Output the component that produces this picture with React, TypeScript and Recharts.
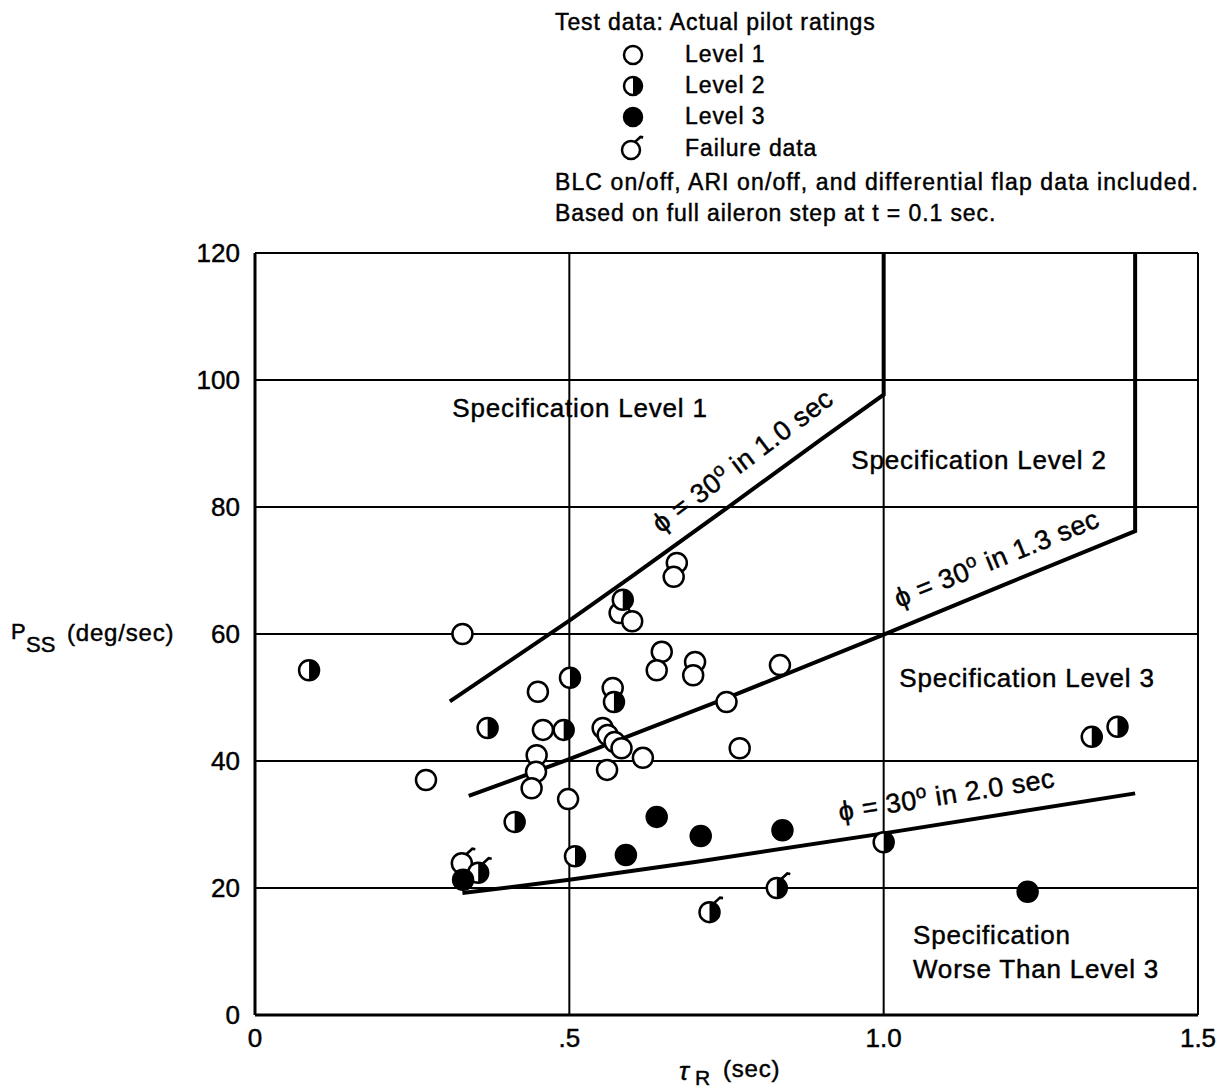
import {
  CartesianGrid,
  ComposedChart,
  Line,
  Scatter,
  XAxis,
  YAxis,
} from 'recharts'

// readings: [tau_R (sec), P_ss (deg/sec)]
const LEVEL1: [number, number][] = [
  [0.33, 60], [0.45, 50.9], [0.458, 44.9], [0.448, 40.9], [0.447, 38.3],
  [0.44, 35.7], [0.272, 37], [0.498, 34], [0.671, 71.2], [0.666, 69],
  [0.58, 63.3], [0.6, 62], [0.647, 57.2], [0.639, 54.3], [0.7, 55.6],
  [0.697, 53.5], [0.835, 55.1], [0.569, 51.5], [0.75, 49.3], [0.553, 45.2],
  [0.561, 44.1], [0.572, 43], [0.583, 42], [0.617, 40.5], [0.771, 42],
  [0.56, 38.6],
]
const LEVEL2: [number, number][] = [
  [0.086, 54.3], [0.501, 53.1], [0.37, 45.2], [0.491, 44.9], [0.413, 30.4],
  [0.509, 25], [0.585, 65.4], [0.571, 49.3], [1.0, 27.2], [1.331, 43.8],
  [1.372, 45.4],
]
const LEVEL3: [number, number][] = [
  [0.331, 21.3], [0.639, 31.2], [0.59, 25.2], [0.709, 28.2], [0.839, 29.1],
  [1.229, 19.4],
]
const FAIL_L1: [number, number][] = [[0.329, 23.9]]
const FAIL_L2: [number, number][] = [[0.355, 22.4], [0.83, 20], [0.723, 16.2]]

// boundary curves: phi = 30 deg reached in 1.0 / 1.3 / 2.0 sec
const BOUND_10: [number, number][] = [
  [0.31, 49.4], [0.4, 55.4], [0.5, 62.1], [0.6, 69.1], [0.75, 79.8],
  [0.8, 83.4], [0.9, 90.6], [1.0, 97.7], [1.0, 120],
]
const BOUND_13: [number, number][] = [
  [0.34, 34.5], [0.5, 40.3], [0.75, 49.9], [1.0, 59.9], [1.2, 68.1],
  [1.4, 76.2], [1.4, 120],
]
const BOUND_20: [number, number][] = [
  [0.33, 19.2], [0.5, 21.3], [0.7, 24.1], [1.0, 28.6], [1.4, 34.9],
]

const X_TICKS = [0, 0.5, 1, 1.5]
const X_TICK_LABELS = ['0', '.5', '1.0', '1.5']
const Y_TICKS = [0, 20, 40, 60, 80, 100, 120]

const toPts = (a: [number, number][]) => a.map(([x, y]) => ({ x, y }))

const FONT = '"Liberation Sans", Arial, Helvetica, sans-serif'
const R = 10

type Kind = 'open' | 'half' | 'full'

function Marker({ cx, cy, kind, fail, r = R }: { cx: number; cy: number; kind: Kind; fail?: boolean; r?: number }) {
  return (
    <g>
      <circle cx={cx} cy={cy} r={r} fill={kind === 'full' ? '#000' : '#fff'} stroke="#000" strokeWidth={2.5} />
      {kind === 'half' && (
        <path d={`M${cx},${cy - r} A${r},${r} 0 0 1 ${cx},${cy + r} Z`} fill="#000" />
      )}
      {fail && (
        <path
          d={`M${cx + 0.45 * r},${cy - 0.9 * r} L${cx + 1.05 * r},${cy - 1.45 * r} L${cx + 1.35 * r},${cy - 1.4 * r}`}
          fill="none"
          stroke="#000"
          strokeWidth={2.6}
        />
      )}
    </g>
  )
}

const shapeOf = (kind: Kind, fail?: boolean) => (p: any) => <Marker cx={p.cx} cy={p.cy} kind={kind} fail={fail} />

const txt = { fontFamily: FONT, fill: '#000', stroke: '#000', strokeWidth: 0.45 } as const

function Overlay() {
  return (
    <svg width={1222} height={1091} style={{ position: 'absolute', left: 0, top: 0, pointerEvents: 'none' }}>
      {/* legend block */}
      <g style={{ ...txt, fontSize: 23, letterSpacing: 0.9 }}>
        <text x={555} y={30}>Test data: Actual pilot ratings</text>
        <text x={685} y={62}>Level 1</text>
        <text x={685} y={93}>Level 2</text>
        <text x={685} y={124}>Level 3</text>
        <text x={685} y={156}>Failure data</text>
        <text x={555} y={190} letterSpacing={1.1}>BLC on/off, ARI on/off, and differential flap data included.</text>
        <text x={555} y={221}>Based on full aileron step at t = 0.1 sec.</text>
      </g>
      <Marker cx={633} cy={55} kind="open" r={9} />
      <Marker cx={633} cy={86} kind="half" r={9} />
      <Marker cx={633} cy={117} kind="full" r={9} />
      <Marker cx={631} cy={150} kind="open" fail r={9} />

      {/* region labels */}
      <g style={{ ...txt, fontSize: 26, letterSpacing: 0.8 }}>
        <text x={580} y={417} textAnchor="middle">Specification Level 1</text>
        <text x={979} y={469} textAnchor="middle">Specification Level 2</text>
        <text x={1027} y={687} textAnchor="middle">Specification Level 3</text>
        <text x={913} y={944}>Specification</text>
        <text x={913} y={978}>Worse Than Level 3</text>
      </g>

      {/* curve labels */}
      <g style={{ ...txt, fontSize: 27, letterSpacing: 0.5 }}>
        <text transform="translate(748,468) rotate(-37)" textAnchor="middle">
          ϕ = 30<tspan dy={-10} fontSize={19}>o</tspan><tspan dy={10}> in 1.0 sec</tspan>
        </text>
        <text transform="translate(1000,567) rotate(-22)" textAnchor="middle">
          ϕ = 30<tspan dy={-10} fontSize={19}>o</tspan><tspan dy={10}> in 1.3 sec</tspan>
        </text>
        <text transform="translate(948,804) rotate(-9)" textAnchor="middle">
          ϕ = 30<tspan dy={-10} fontSize={19}>o</tspan><tspan dy={10}> in 2.0 sec</tspan>
        </text>
      </g>

      {/* axis titles */}
      <g style={txt}>
        <text x={11} y={639} fontSize={22}>P</text>
        <text x={26} y={652} fontSize={22}>SS</text>
        <text x={67} y={641} fontSize={24} letterSpacing={0.8}>(deg/sec)</text>
        <text x={679} y={1080} fontSize={26} fontStyle="italic">τ</text>
        <text x={695} y={1085} fontSize={21}>R</text>
        <text x={723} y={1077} fontSize={24} letterSpacing={0.8}>(sec)</text>
      </g>
    </svg>
  )
}

const tickStyle = { fill: '#000', fontSize: 26, fontFamily: FONT, stroke: '#000', strokeWidth: 0.45 }

export default function App() {
  return (
    <div style={{ position: 'absolute', left: 0, top: 0, width: 1222, height: 1091, background: '#fff' }}>
      <ComposedChart
        width={1222}
        height={1091}
        margin={{ top: 253, right: 24, bottom: 36, left: 195 }}
      >
        <CartesianGrid stroke="#000" strokeWidth={2} horizontalValues={Y_TICKS} verticalValues={X_TICKS} />
        <XAxis
          type="number"
          dataKey="x"
          domain={[0, 1.5]}
          ticks={X_TICKS}
          tickFormatter={(v: number) => X_TICK_LABELS[X_TICKS.indexOf(v)] ?? String(v)}
          axisLine={{ stroke: '#000', strokeWidth: 3 }}
          tickLine={false}
          tickSize={0}
          tickMargin={14}
          height={40}
          tick={tickStyle}
          allowDataOverflow
        />
        <YAxis
          type="number"
          dataKey="y"
          domain={[0, 120]}
          ticks={Y_TICKS}
          axisLine={{ stroke: '#000', strokeWidth: 3 }}
          tickLine={false}
          tickSize={0}
          tickMargin={15}
          width={60}
          tick={tickStyle}
          allowDataOverflow
        />
        <Line data={toPts(BOUND_10)} dataKey="y" type="linear" stroke="#000" strokeWidth={4} dot={false} isAnimationActive={false} />
        <Line data={toPts(BOUND_13)} dataKey="y" type="linear" stroke="#000" strokeWidth={4} dot={false} isAnimationActive={false} />
        <Line data={toPts(BOUND_20)} dataKey="y" type="linear" stroke="#000" strokeWidth={4} dot={false} isAnimationActive={false} />
        <Scatter data={toPts(LEVEL1)} shape={shapeOf('open')} isAnimationActive={false} />
        <Scatter data={toPts(LEVEL2)} shape={shapeOf('half')} isAnimationActive={false} />
        <Scatter data={toPts(FAIL_L1)} shape={shapeOf('open', true)} isAnimationActive={false} />
        <Scatter data={toPts(FAIL_L2)} shape={shapeOf('half', true)} isAnimationActive={false} />
        <Scatter data={toPts(LEVEL3)} shape={shapeOf('full')} isAnimationActive={false} />
      </ComposedChart>
      <Overlay />
    </div>
  )
}
